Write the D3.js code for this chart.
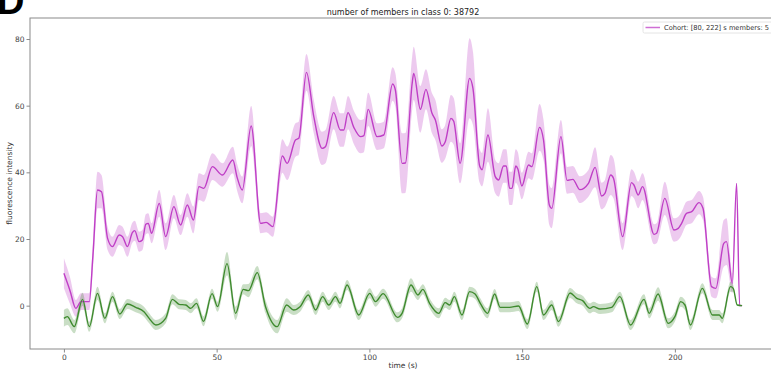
<!DOCTYPE html>
<html>
<head>
<meta charset="utf-8">
<script src="https://cdn.jsdelivr.net/npm/d3@7/dist/d3.min.js"></script>
<style>
  html, body { margin: 0; padding: 0; background: #fff; }
  svg { display: block; font-family: "DejaVu Sans", sans-serif; }
</style>
</head>
<body>
<svg id="chart" width="771" height="375"></svg>
<script>
// Cohort mean trace (magenta) with its error band
const cohortTime = [0,2,3.9,5.6,8.3,9.5,11,12.3,14.3,15.9,18.1,19.2,20.8,22.4,23.2,24.6,25.7,26.8,27.6,28.7,31.2,33.3,36,38.2,40.4,42.4,44.2,45.8,48.6,51.9,55.3,56.7,58.4,61.3,64.4,66.2,68.4,71.5,73.1,75.8,76.9,79.4,81.8,84.5,85.6,88.3,90.5,91.6,93,94.9,97.1,98.2,99.6,102.5,104.7,107.6,108.5,110.7,111.8,114,114.5,116.7,118.5,120.5,121.6,123.7,124.8,126.7,127.6,129.7,132.8,133.9,136.1,136.9,138.8,141.2,142.3,143.9,144.8,145.9,146.7,147.9,148.6,149.9,152.1,153.2,155.7,157,158.9,159.7,162.7,164.7,166.6,168.9,171.7,173.9,176,177.1,179,179.9,182.9,185.8,186.6,188,189.4,193.2,194,196.7,199.7,201.1,202.2,203.8,205.5,207.9,209.2,212,213.4,216,216.9,218.8,220.2,221.2,222];
const cohortMean = [9.7,4.5,-0.8,1.2,1.2,15,34.7,34.2,20.2,17.7,21.2,20.7,17.7,21.9,22.5,19.2,19.7,24.4,24.7,21.7,30.7,20.7,29.7,24.2,30.2,25.7,35.7,35.2,41.7,39.2,43.7,38.5,34.7,53.9,24.7,25,23.7,44.9,42.7,49.7,50.2,70,56.7,47.2,47.7,57.9,52.7,52.7,57.9,53.5,50.7,51,58.9,50.7,51.2,66.5,64.7,42.7,42.8,66.7,69.7,58.9,64.9,57.7,55.7,47.9,49.1,56.2,55.3,42.7,68.2,65.2,41.9,40.8,51.2,38.7,37.7,41.9,41.9,35.2,35.2,41.9,41,35.9,42.2,41.7,53.5,49.7,30.2,29.2,50.7,37.6,37.9,34.8,36.7,41.5,32.9,33.7,39.2,38.2,20.7,36.9,36.2,33.2,35.7,21.4,21.7,32.2,22.7,23.2,24.7,27.7,28.2,30.9,29.2,5.7,5.2,18.7,19.2,6.7,36.7,0,0];
const cohortErr = [4.5,4,2.5,2.5,2.5,4,5.5,5,3.5,3,3,3,3,3,3,3,3,3,3,3,4,4,3.5,3,3.5,4,4,4,4,3.5,4,4,4,6,3,3,3,5,5,5,5,5.5,5,5,5,5,5,5,5,5,5,5,5,4,4,5,5,9,9,8,8,7,6,6,6,5,5,7,7,6,12,11,5,5,8,5,5,5,5,5,5,5,5,4,4,4,7,6,6,6,5,4,4,4,4,6,4,4,6,6,4,4,4,4,4,3,3,5,3.5,3.5,3.5,3.5,3.5,3.5,3.5,3,3,7,7,3,0,0,0];

// Reference trace (green) with its error band
const refTime = [0,1.1,3.4,6.1,8.3,11,13.4,15.9,18.3,20.8,23.5,26.2,27.9,30.1,33.3,35.5,37.7,39.9,41.5,43.4,45.7,48.5,50.3,53.4,56.2,58.7,60.4,63.3,66,69.8,72.9,75.2,77.3,80,82.4,84.7,86.7,88.9,90.4,92.7,96.5,100.1,102,104.5,109.2,110.7,113.6,115.9,117.5,119.7,122.7,124.8,126.3,127.8,130.3,132.8,134.6,136.3,138.7,141,142.8,145.9,148.8,151.7,154.8,157,159.7,161.9,165.7,167.9,169.8,172.2,173.3,175.5,179.3,182,185.5,189.9,191.6,194.5,197.8,200,201.9,203.3,205.1,209,212.3,214.5,215.5,218.2,219.1,220.4,222];
const refMean = [-3.8,-3.3,-6.3,1.9,-6.3,3.7,-3.8,2.7,-2.5,0.5,-0.5,-1.8,-3.8,-5.8,-3.8,1.9,0.4,0.2,-0.8,0.7,-4.7,3.6,-0.3,12.6,-2.3,4.9,4.5,9.9,-0.3,-6.3,0.2,-1.3,-0.3,3.2,-1.3,2.7,0.2,2.7,0.7,6.2,-2.8,3.7,1.2,3.6,-3.5,-2.3,6.2,3.2,4.9,0.7,-2.3,0.9,0.2,2.7,-2.8,4.2,3.5,0.7,-2.3,3.5,-0.5,-0.5,-0.1,-5.5,5.7,-2.8,0.2,-4.8,3.8,2.2,1.5,-0.8,-0.3,-1,-0.5,2.7,-5.8,1.9,-2.3,3.5,-5.3,-3.3,1.2,0.2,-5.8,5.2,-2.8,-2.8,-3.8,5.7,5.2,0.2,0];
const refErr = [2.5,2.5,2,2,1.5,2,1.5,1.5,1.5,1.5,1.5,1.5,1.5,1.5,1.5,1.5,1.5,1.5,1.5,1.5,1.5,1.5,1.5,3.5,2,1.5,2,2,2,2,2,1.5,1.5,1.5,1.5,1.5,1.5,1.5,1.5,1.5,1.5,1.5,1.5,1.5,1.5,1.5,2,1.5,1.5,1.5,1.5,1.5,1.5,1.5,1.5,1.5,1.5,1.5,1.5,1.5,1.5,1.5,1.5,1.5,1.5,1.5,1.5,1.5,1.5,1.5,1.5,1.5,1.5,1.5,1.5,1.5,1.5,1.5,1.5,2,1.5,1.5,1.5,1.5,1.5,1.5,1.5,1.5,1.5,1.5,1,0,0];

const xTicks = [0, 50, 100, 150, 200];
const yTicks = [0, 20, 40, 60, 80];
const titleText = "number of members in class 0: 38792";
const legendText = "Cohort: [80, 222] s members: 5";

const svg = d3.select("#chart");
const m = { left: 30, top: 18, bottom: 349, right: 776 };

const x = d3.scaleLinear().domain([-11.1, 233.1]).range([m.left, m.right]);
const y = d3.scaleLinear().domain([-13, 86.3]).range([m.bottom, m.top]);

const magenta = "#bf3fc6", green = "#3e8a2e";

function series(times, means, errs) {
  return times.map((t, i) => ({ t, v: means[i], e: errs[i] }));
}

svg.append("defs").append("clipPath").attr("id", "plotclip")
  .append("rect").attr("x", m.left).attr("y", m.top)
  .attr("width", m.right - m.left).attr("height", m.bottom - m.top);

const plot = svg.append("g").attr("clip-path", "url(#plotclip)");
const band = d3.area().curve(d3.curveMonotoneX)
  .x(d => x(d.t)).y0(d => y(d.v - d.e)).y1(d => y(d.v + d.e));
const meanLine = d3.line().curve(d3.curveMonotoneX)
  .x(d => x(d.t)).y(d => y(d.v));

const traces = [
  [series(cohortTime, cohortMean, cohortErr), magenta],
  [series(refTime, refMean, refErr), green]
];
traces.forEach(([d, c]) => {
  plot.append("path").datum(d).attr("d", band).attr("fill", c).attr("fill-opacity", 0.28);
});
traces.forEach(([d, c]) => {
  plot.append("path").datum(d).attr("d", meanLine).attr("fill", "none")
    .attr("stroke", c).attr("stroke-width", 1.4).attr("stroke-linejoin", "round");
});

// Axes frame
const spine = "#8a8a8a";
svg.append("rect").attr("x", m.left).attr("y", m.top)
  .attr("width", m.right - m.left).attr("height", m.bottom - m.top)
  .attr("fill", "none").attr("stroke", spine).attr("stroke-width", 1);

const xAxis = svg.append("g").attr("transform", `translate(0,${m.bottom})`)
  .call(d3.axisBottom(x).tickValues(xTicks).tickSize(3.5).tickPadding(2).tickFormat(d3.format("d")));
const yAxis = svg.append("g").attr("transform", `translate(${m.left},0)`)
  .call(d3.axisLeft(y).tickValues(yTicks).tickSize(3.5).tickPadding(2).tickFormat(d3.format("d")));
[xAxis, yAxis].forEach(a => {
  a.select(".domain").remove();
  a.selectAll(".tick line").attr("stroke", spine);
  a.selectAll(".tick text").attr("fill", "#444").style("font-size", "7.5px")
    .style("font-family", "'DejaVu Sans', sans-serif");
});

// Titles and labels
svg.append("text").attr("x", (m.left + m.right) / 2).attr("y", 14.5).attr("text-anchor", "middle")
  .style("font-size", "8px").attr("fill", "#222").text(titleText);
svg.append("text").attr("x", (m.left + m.right) / 2).attr("y", 368).attr("text-anchor", "middle")
  .style("font-size", "7.5px").attr("fill", "#333").text("time (s)");
svg.append("text").attr("transform", `translate(12,${(m.top + m.bottom) / 2}) rotate(-90)`)
  .attr("text-anchor", "middle").style("font-size", "7.5px").attr("fill", "#333")
  .text("fluorescence intensity");

// Panel letter
svg.append("text").attr("x", -3).attr("y", 14)
  .style("font-size", "38px").style("font-weight", "bold")
  .style("font-family", "'Liberation Sans', Arial, sans-serif").attr("fill", "#000").text("D");

// Legend
const lg = svg.append("g").attr("transform", "translate(643,22)");
lg.append("rect").attr("width", 132).attr("height", 11).attr("rx", 1.5)
  .attr("fill", "#fff").attr("stroke", "#ddd").attr("stroke-width", 0.8);
lg.append("line").attr("x1", 2.5).attr("x2", 17).attr("y1", 5.5).attr("y2", 5.5)
  .attr("stroke", magenta).attr("stroke-opacity", 0.75).attr("stroke-width", 1.5);
lg.append("text").attr("x", 21).attr("y", 8).style("font-size", "6.8px").attr("fill", "#333")
  .attr("textLength", 105).attr("lengthAdjust", "spacingAndGlyphs")
  .text(legendText);
</script>
</body>
</html>
